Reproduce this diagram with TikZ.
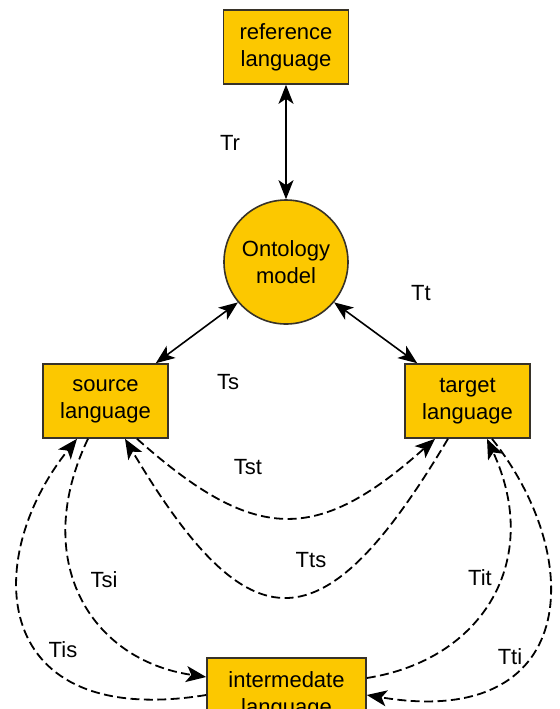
\documentclass[tikz,border=0pt]{standalone}
\usepackage{fontspec}
\setmainfont{Liberation Sans}
\usetikzlibrary{arrows.meta}

\definecolor{langgold}{RGB}{252,200,0}
\definecolor{boxedge}{RGB}{55,50,40}

\begin{document}
\begin{tikzpicture}[x=0.5pt, y=-0.5pt,
    every node/.style={font=\fontsize{11}{13.5}\selectfont},
    langbox/.style={draw=boxedge, line width=0.8pt, fill=langgold,
        minimum width=62.5pt, minimum height=37pt, inner sep=0pt, align=center},
    ontonode/.style={draw=boxedge, line width=0.8pt, fill=langgold, circle,
        minimum size=62pt, inner sep=0pt, align=center},
    maplink/.style={line width=0.8pt, {Stealth[length=9.5pt,width=7.5pt,inset=2.5pt]}-{Stealth[length=9.5pt,width=7.5pt,inset=2.5pt]}},
    translink/.style={line width=0.9pt, dash pattern=on 4.5pt off 2.2pt, -{Stealth[length=10pt,width=8pt,inset=2.5pt]}}]

    \clip (0,0) rectangle (560,709);

    % Languages and the ontology in the middle
    \node[langbox] (ref) at (286,47) {reference\\language};
    \node[ontonode] (onto) at (286,262) {Ontology\\model};
    \node[langbox] (src) at (105.5,401) {source\\language};
    \node[langbox] (tgt) at (467.5,401) {target\\language};
    \node[langbox, minimum width=79.5pt] (inter) at (286.5,695) {intermedate\\language};

    % Mappings to the ontology
    \draw[maplink] (ref.south) -- (onto.north);
    \node (lblTr) at (230,143) {Tr};
    \draw[maplink] (onto.220) -- ([xshift=-6.5pt]src.north east);
    \node (lblTs) at (228,382) {Ts};
    \draw[maplink] (onto.-40) -- ([xshift=6.5pt]tgt.north west);
    \node (lblTt) at (421,293) {Tt};

    % Source <-> target
    \draw[translink] ([xshift=15.75pt]src.south) .. controls (255,544) and (317,544) .. ([xshift=-16.25pt]tgt.south);
    \node (lblTst) at (248,467) {Tst};
    \draw[translink] ([xshift=-9.75pt]tgt.south) .. controls (323,649) and (250,649) .. ([xshift=9.75pt]src.south);
    \node (lblTts) at (311,560) {Tts};

    % Source <-> intermediate
    \draw[translink] ([xshift=-8.75pt]src.south) .. controls (30,560) and (90,660) .. ([yshift=9pt]inter.west);
    \node (lblTsi) at (104,580) {Tsi};
    \draw[translink] (inter.west) .. controls (-10,730) and (-20,560) .. ([xshift=-14.25pt]src.south);
    \node (lblTis) at (63,650) {Tis};

    % Intermediate <-> target
    \draw[translink] ([yshift=8.5pt]inter.east) .. controls (483,660) and (543,560) .. ([xshift=9.75pt]tgt.south);
    \node (lblTit) at (480,578) {Tit};
    \draw[translink] ([xshift=12.25pt]tgt.south) .. controls (588,560) and (578,730) .. (inter.east);
    \node (lblTti) at (510,657) {Tti};
\end{tikzpicture}
\end{document}
